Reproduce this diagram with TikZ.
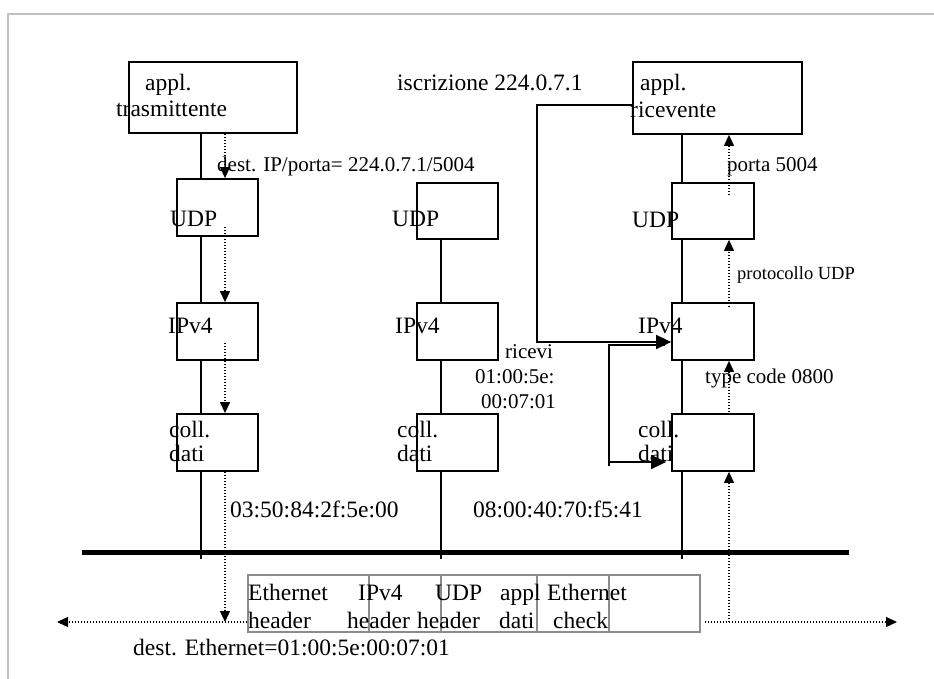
\documentclass[tikz,border=0pt]{standalone}
\usepackage{fontspec}
\setmainfont{Liberation Serif}
\usetikzlibrary{arrows.meta,calc}
\definecolor{framegray}{HTML}{C0C0C0}
\definecolor{pktgray}{HTML}{8C8C8C}
\begin{document}
\begin{tikzpicture}[x=1pt,y=-1pt,
  box/.style={draw,line width=1.8pt,inner sep=0pt},
  lbl/.style={anchor=base west,inner sep=0pt,font=\fontsize{23.5}{28}\selectfont},
  slbl/.style={anchor=base west,inner sep=0pt,font=\fontsize{21}{25}\selectfont},
  stackline/.style={line width=1.8pt},
  dotarrow/.style={line width=1.2pt,dash pattern=on 1.2pt off 1.8pt,-{Triangle[length=11pt,width=10pt]}},
  conn/.style={line width=1.6pt,-{Triangle[length=15pt,width=14pt]}}]
\useasboundingbox (0,0) rectangle (934,679);
% frame
\draw[framegray,line width=2pt] (8,679) -- (8,14) -- (934,14);

% boxes
\node[box,minimum width=168pt,minimum height=71pt] (txA) at (213,97.5) {};
\node[box,minimum width=81pt,minimum height=57pt] (udpL) at (217.5,207.5) {};
\node[box,minimum width=81pt,minimum height=57pt] (ipL) at (217.5,331.5) {};
\node[box,minimum width=81pt,minimum height=57pt] (llL) at (217.5,442.5) {};
\node[box,minimum width=81pt,minimum height=56pt] (udpM) at (457.5,211) {};
\node[box,minimum width=81pt,minimum height=57pt] (ipM) at (457.5,331.5) {};
\node[box,minimum width=81pt,minimum height=57pt] (llM) at (457.5,442.5) {};
\node[box,minimum width=169pt,minimum height=72pt] (rxA) at (717.5,98) {};
\node[box,minimum width=82pt,minimum height=56pt] (udpR) at (713,211) {};
\node[box,minimum width=82pt,minimum height=57pt] (ipR) at (713,331.5) {};
\node[box,minimum width=82pt,minimum height=57pt] (llR) at (713,442.5) {};

% bus
\coordinate (busL) at (82,552);
\coordinate (busR) at (849,552);
\draw[line width=5pt] (busL) -- (busR);

% stack lines
\coordinate (colL) at (201,559);
\coordinate (colM) at (441,559);
\coordinate (colR) at (682,559);
\draw[stackline] (txA.south -| colL) -- (udpL.north -| colL);
\draw[stackline] (udpL.south -| colL) -- (ipL.north -| colL);
\draw[stackline] (ipL.south -| colL) -- (llL.north -| colL);
\draw[stackline] (llL.south -| colL) -- (colL);
\draw[stackline] (udpM.south -| colM) -- (ipM.north -| colM);
\draw[stackline] (ipM.south -| colM) -- (llM.north -| colM);
\draw[stackline] (llM.south -| colM) -- (colM);
\draw[stackline] (rxA.south -| colR) -- (udpR.north -| colR);
\draw[stackline] (udpR.south -| colR) -- (ipR.north -| colR);
\draw[stackline] (ipR.south -| colR) -- (llR.north -| colR);
\draw[stackline] (llR.south -| colR) -- (colR);

% packet
\node[draw=pktgray,line width=1.5pt,minimum width=452pt,minimum height=57pt,inner sep=0pt] (pkt) at (474,603.5) {};
\foreach \xx in {369,441,537,609}
  \draw[pktgray,line width=1.5pt] (\xx,575) -- (\xx,632);

% dotted arrows, sender side
\coordinate (dL) at (225,0);
\draw[dotarrow] (txA.south -| dL) -- (udpL.north -| dL);
\draw[dotarrow] (225,227) -- (ipL.north -| dL);
\draw[dotarrow] (225,343) -- (llL.north -| dL);
\coordinate (dLend) at (225,622);
\draw[dotarrow] (llL.south -| dL) -- (dLend);
\coordinate (hL) at (57,622);
\draw[dotarrow] (pkt.west |- dLend) -- (hL);

% dotted arrows, receiver side
\coordinate (dR) at (729,0);
\draw[dotarrow] (729,195) -- (rxA.south -| dR);
\draw[dotarrow] (729,307) -- (udpR.south -| dR);
\draw[dotarrow] (729,415) -- (ipR.south -| dR);
\coordinate (dRstart) at (729,622);
\draw[dotarrow] (dRstart) -- (llR.south -| dR);
\coordinate (hR) at (897,622);
\draw[dotarrow] (705,622) -- (hR);

% solid connectors
\draw[conn] ([yshift=-7pt]rxA.west) -- (537,105) |- ([yshift=-10.5pt]ipR.west);
\draw[line width=1.6pt] ([xshift=-6pt,yshift=-13.5pt]ipR.west) -- (609,345) -- (609,466);
\draw[conn] (609,462) -- ([xshift=-5pt,yshift=-19.5pt]llR.west);

% texts
\node[lbl] (t1) at (145,91) {appl.};
\node[lbl] (t2) at (116,117) {trasmittente};
\node[lbl] (t3) at (397,91) {iscrizione 224.0.7.1};
\node[lbl] (t4) at (640,91) {appl.};
\node[lbl] (t5) at (630,118) {ricevente};
\node[slbl] (t6) at (217,172) {dest. IP/porta= 224.0.7.1/5004};
\node[slbl] (t7) at (727,172) {porta 5004};
\node[lbl] (t8) at (170,226) {UDP};
\node[lbl] (t9) at (392,226) {UDP};
\node[lbl] (t10) at (632,227) {UDP};
\node[slbl,font=\fontsize{18.5}{22}\selectfont] (t11) at (737,279) {protocollo UDP};
\node[lbl] (t12) at (168,333) {IPv4};
\node[lbl] (t13) at (395,333) {IPv4};
\node[lbl] (t14) at (638,333) {IPv4};
\node[slbl] (t15) at (505,358) {ricevi};
\node[slbl] (t16) at (475,383) {01:00:5e:};
\node[slbl] (t17) at (481,408) {00:07:01};
\node[slbl] (t18) at (705,383) {type code 0800};
\node[lbl] (t19) at (169,437) {coll.};
\node[lbl] (t20) at (169,461) {dati};
\node[lbl] (t21) at (397,437) {coll.};
\node[lbl] (t22) at (397,461) {dati};
\node[lbl] (t23) at (638,437) {coll.};
\node[lbl] (t24) at (638,461) {dati};
\node[lbl] (t25) at (230,517) {03:50:84:2f:5e:00};
\node[lbl] (t26) at (473,517) {08:00:40:70:f5:41};
\node[lbl] (p1) at (248,600) {Ethernet};
\node[lbl] (p2) at (248,628) {header};
\node[lbl] (p3) at (358,600) {IPv4};
\node[lbl] (p4) at (347,628) {header};
\node[lbl] (p5) at (435,600) {UDP};
\node[lbl] (p6) at (417,628) {header};
\node[lbl] (p7) at (500,600) {appl};
\node[lbl] (p8) at (499,628) {dati};
\node[lbl] (p9) at (547,600) {Ethernet};
\node[lbl] (p10) at (553,628) {check};
\node[lbl] (t27) at (133,655) {dest. Ethernet=01:00:5e:00:07:01};
\end{tikzpicture}
\end{document}
